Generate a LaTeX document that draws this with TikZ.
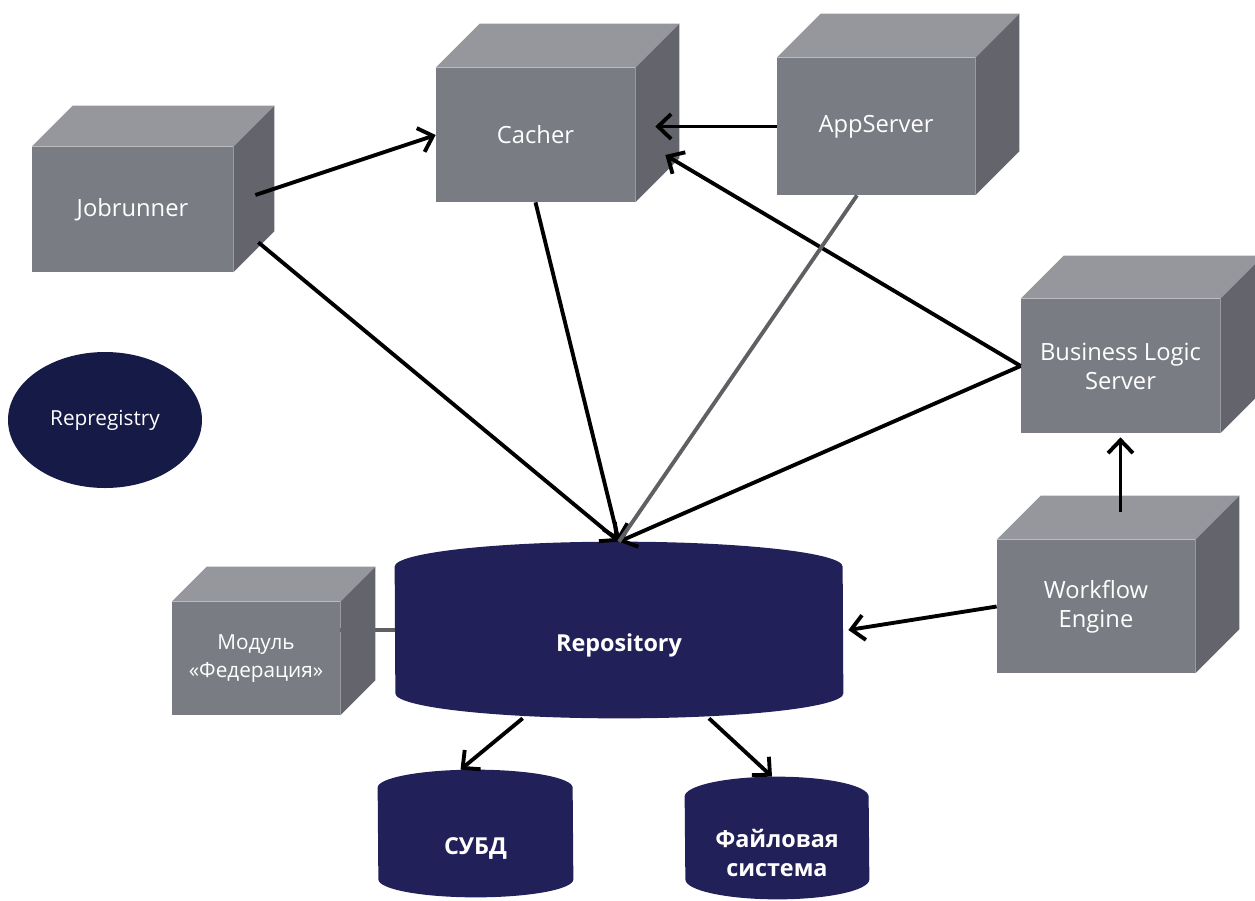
\documentclass[tikz,border=0pt]{standalone}
\usepackage{fontspec}
\setmainfont{Open Sans}
\usetikzlibrary{shapes.geometric,arrows.meta,calc,backgrounds}

\definecolor{cubefront}{RGB}{122,124,132}
\definecolor{cubetop}{RGB}{150,151,156}
\definecolor{cubeside}{RGB}{100,101,108}
\definecolor{dbblue}{RGB}{33,32,88}
\definecolor{regblue}{RGB}{22,26,70}
\definecolor{linkgray}{RGB}{95,95,100}

% top and right faces of a box node
\newcommand{\cubefaces}[2]{%
  \fill[cubetop] (#1.north west) -- ++(#2,#2) -- ([shift={(#2,#2)}]#1.north east)
    -- (#1.north east) -- cycle;
  \fill[cubeside] (#1.north east) -- ([shift={(#2,#2)}]#1.north east)
    -- ([shift={(#2,#2)}]#1.south east) -- (#1.south east) -- cycle;}

% cylinder body round a node: name, x radius, y radius
\newcommand{\dbbody}[3]{%
  \fill[dbblue] ([yshift=-#3]#1.north west)
    arc[start angle=180, end angle=0, x radius=#2, y radius=#3]
    -- ([yshift=#3]#1.south east)
    arc[start angle=0, end angle=-180, x radius=#2, y radius=#3] -- cycle;}

\begin{document}
\begin{tikzpicture}[>={Straight Barb[length=2.6mm,width=5mm]},
  font=\fontsize{13.5}{16.5}\selectfont]
\tikzset{%
  cube/.style = {%
    fill = cubefront,
    text = white,
    inner sep = 0pt,
    align = center
  },
  store/.style = {%
    inner sep = 0pt
  },
  storetext/.style = {%
    text = white,
    align = center,
    font = \fontsize{13.3}{17}\selectfont\bfseries
  },
  arr/.style = {->, line width=2.2pt, black},
  link/.style = {line width=2.2pt, linkgray}
}
  \useasboundingbox (0,0) rectangle (25.1,-18);

  % servers
  \node[cube, minimum width=4.02cm, minimum height=2.5cm] (job) at (2.65,-4.19) {Jobrunner};
  \cubefaces{job}{0.82}
  \node[cube, minimum width=3.98cm, minimum height=2.68cm] (cacher) at (10.71,-2.7) {Cacher};
  \cubefaces{cacher}{0.88}
  \node[cube, minimum width=3.96cm, minimum height=2.74cm] (app) at (17.52,-2.53) {AppServer};
  \cubefaces{app}{0.88}
  \node[cube, minimum width=3.98cm, minimum height=2.68cm] (bls) at (22.41,-7.32)
    {Business Logic\\Server};
  \cubefaces{bls}{0.86}
  \node[cube, minimum width=3.96cm, minimum height=2.66cm] (wf) at (21.92,-12.13)
    {Workflow\\Engine};
  \cubefaces{wf}{0.88}
  \node[cube, minimum width=3.36cm, minimum height=2.26cm,
    font=\fontsize{11.8}{16}\selectfont] (mod) at (5.12,-13.17)
    {Модуль\\«Федерация»};
  \cubefaces{mod}{0.7}

  % storage
  \node[store, minimum width=8.96cm, minimum height=3.52cm,
    label={[storetext, yshift=-0.3cm]center:Repository}] (repo) at (12.38,-12.6) {};
  \node[store, minimum width=3.9cm, minimum height=2.54cm,
    label={[storetext, yshift=-0.3cm]center:СУБД}] (dbms) at (9.51,-16.67) {};
  \node[store, minimum width=3.68cm, minimum height=2.44cm,
    label={[storetext, yshift=-0.3cm]center:Файловая\\система}] (fs) at (15.54,-16.76) {};
  \begin{scope}[on background layer]
    \dbbody{repo}{4.48cm}{0.5cm}
    \dbbody{dbms}{1.95cm}{0.36cm}
    \dbbody{fs}{1.84cm}{0.4cm}
    \draw[link] (repo.west) -- (repo.west -| mod.east);
  \end{scope}

  \node[ellipse, fill=regblue, text=white, inner sep=0pt,
    minimum width=3.88cm, minimum height=2.72cm,
    font=\fontsize{11.8}{14}\selectfont] (reg) at (2.1,-8.4) {Repregistry};

  % connectors
  \draw[arr] ([shift={(0.44,0.29)}]job.east) -- (cacher.west);
  \draw[arr] (app.west) -- ([xshift=0.4cm]cacher.east |- app.west);
  \draw[arr] (bls.west) -- ([shift={(0.6,-0.4)}]cacher.east);
  \draw[arr] (bls.west) -- (repo.north);
  \draw[arr] ([shift={(0.5,0.6)}]job.south east) -- (repo.north);
  \draw[arr] (cacher.south) -- (repo.north);
  \draw[link] ([xshift=-0.38cm]app.south) -- (repo.north);
  \draw[arr] (wf.west) -- ([xshift=0.1cm]repo.east);
  \draw[arr] ($(bls.south |- wf.north)+(0,0.56)$) -- ([yshift=-0.08cm]bls.south);
  \draw[arr] ([xshift=2.56cm]repo.south west) -- ([xshift=-0.3cm]dbms.north);
  \draw[arr] ([xshift=1.8cm]repo.south) -- ([xshift=-0.1cm]fs.north);
\end{tikzpicture}
\end{document}
